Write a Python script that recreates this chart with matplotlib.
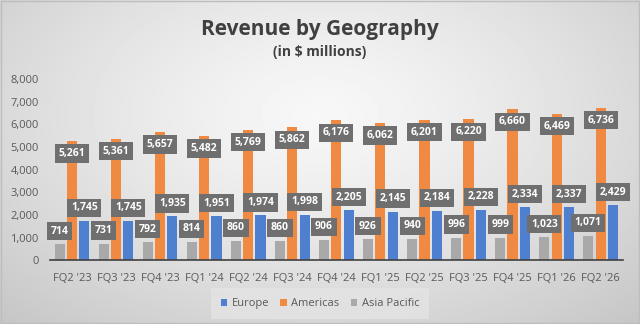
import numpy as np
import matplotlib
matplotlib.use('Agg')
import matplotlib.pyplot as plt
from matplotlib.patches import Rectangle

plt.rcParams['font.family'] = ['Open Sans', 'DejaVu Sans']

quarters = ["FQ2 '23", "FQ3 '23", "FQ4 '23", "FQ1 '24", "FQ2 '24", "FQ3 '24", "FQ4 '24",
            "FQ1 '25", "FQ2 '25", "FQ3 '25", "FQ4 '25", "FQ1 '26", "FQ2 '26"]
europe = [1745, 1745, 1935, 1951, 1974, 1998, 2205, 2145, 2184, 2228, 2334, 2337, 2429]
americas = [5261, 5361, 5657, 5482, 5769, 5862, 6176, 6062, 6201, 6220, 6660, 6469, 6736]
asia = [714, 731, 792, 814, 860, 860, 906, 926, 940, 996, 999, 1023, 1071]

c_eu = '#4f7fcf'
c_am = '#f08a42'
c_ap = '#a9a9a9'

fig = plt.figure(figsize=(6.4, 3.24), dpi=100)

# radial grey gradient background
bg = fig.add_axes([0, 0, 1, 1])
yy, xx = np.mgrid[0:1:200j, 0:1:400j]
r = np.sqrt(((xx - 0.5) / 0.75) ** 2 + ((yy - 0.35) / 0.9) ** 2)
img = 0.97 - 0.2 * np.clip(r, 0, 1) ** 1.3
bg.imshow(img, cmap='gray', vmin=0, vmax=1, extent=[0, 1, 0, 1], aspect='auto', origin='upper')
bg.add_patch(Rectangle((0.002, 0.003), 0.996, 0.994, fill=False, ec='#bdbdbd', lw=1.0))
bg.set_axis_off()

ax = fig.add_axes([0.078, 0.197, 0.895, 0.559])
ax.set_facecolor('none')
x = np.arange(len(quarters))
w = 0.23
off = 0.28
ax.bar(x - off, asia, w, color=c_ap, label='Asia Pacific', zorder=2)
ax.bar(x, americas, w, color=c_am, label='Americas', zorder=2)
ax.bar(x + off, europe, w, color=c_eu, label='Europe', zorder=2)

box = dict(boxstyle='square,pad=0.35', fc='#6f6f6f', ec='none')
for i in range(len(quarters)):
    for xv, v, dy in [(x[i] - off, asia[i], 13), (x[i] + off, europe[i], 13), (x[i], americas[i], -12.5)]:
        ax.annotate(f'{v:,}', (xv, v), xytext=(0, dy), textcoords='offset pixels',
                    ha='center', va='center', fontsize=7.5, fontweight='bold', color='white',
                    bbox=box, zorder=5)

ax.set_xlim(-0.5, len(quarters) - 0.5)
ax.set_ylim(0, 8000)
ax.set_yticks(range(0, 8001, 1000))
ax.set_yticklabels([f'{t:,}' for t in range(0, 8001, 1000)])
ax.set_xticks(x)
ax.set_xticklabels(quarters)
ax.tick_params(axis='both', length=0, labelsize=8, colors='#595959')
ax.tick_params(axis='x', pad=9)
ax.tick_params(axis='y', pad=8)
for s in ['top', 'right', 'left']:
    ax.spines[s].set_visible(False)
ax.spines['bottom'].set_color('#404040')
ax.spines['bottom'].set_linewidth(1.2)

h, l = ax.get_legend_handles_labels()
order = [2, 1, 0]
leg = fig.legend([h[k] for k in order], [l[k] for k in order], loc='center',
                 bbox_to_anchor=(0.5, 0.062), ncol=3, frameon=True, fontsize=8,
                 handlelength=0.6, handleheight=0.6, handletextpad=0.4, columnspacing=1.0,
                 borderpad=0.6)
leg.get_frame().set_facecolor('#e4e4e4')
leg.get_frame().set_edgecolor('none')
leg.get_frame().set_alpha(0.8)
leg.get_frame().set_boxstyle('square')
for t in leg.get_texts():
    t.set_color('#595959')

fig.text(0.5, 0.91, 'Revenue by Geography', ha='center', va='center', fontsize=15,
         fontweight='bold', color='#404040')
fig.text(0.5, 0.838, '(in $ millions)', ha='center', va='center', fontsize=10,
         fontweight='bold', color='#404040')

fig.savefig('out.png', dpi=100)
